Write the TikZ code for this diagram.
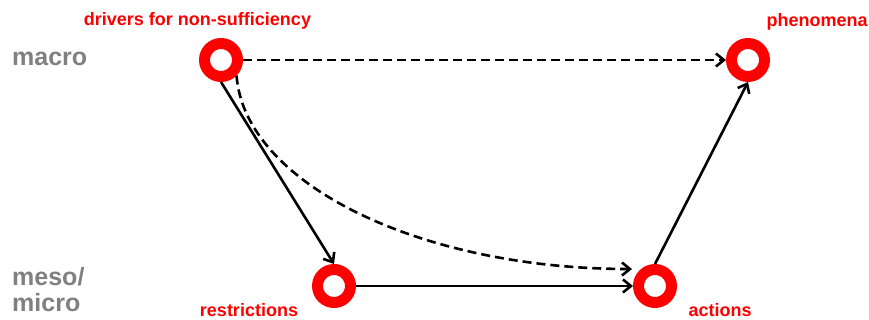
\documentclass[tikz,border=0pt]{standalone}
\usepackage{fontspec}
\setmainfont{Liberation Sans}
\usetikzlibrary{arrows.meta}
\definecolor{ringred}{RGB}{255,0,0}
\definecolor{levelgray}{RGB}{128,128,128}
\tikzset{
  ring/.style={circle, draw=ringred, line width=11pt, minimum size=33pt, inner sep=0pt, fill=white},
  lbl/.style={text=ringred, font=\bfseries\fontsize{18}{21}\selectfont, anchor=base, inner sep=0pt},
  lvl/.style={text=levelgray, font=\bfseries\fontsize{25}{26}\selectfont, anchor=base west, inner sep=0pt},
  conn/.style={line width=2.6pt, -{Straight Barb[length=8pt,width=13pt]}},
  dconn/.style={conn, dash pattern=on 9pt off 5pt},
}
\begin{document}
\begin{tikzpicture}[x=1pt, y=-1pt]
\useasboundingbox (0,0) rectangle (869,320);
% rings
\node[ring] (tl) at (221,60) {};
\node[ring] (tr) at (748,60) {};
\node[ring] (bl) at (334,286) {};
\node[ring] (br) at (655,286) {};
% labels
\node[lbl] (ltl) at (197.5,26) {drivers for non-sufficiency};
\node[lbl] (ltr) at (817,27) {phenomena};
\node[lbl] (lbl) at (249,316) {restrictions};
\node[lbl] (lbr) at (720,316) {actions};
\node[lvl] (macro) at (12,65.5) {macro};
\node[lvl] (meso) at (12,285) {meso/};
\node[lvl] (micro) at (12,311) {micro};
% connectors
\coordinate (brin) at ([shift={(-23,-17)}]br.center);
\draw[dconn] (tl) -- (tr);
\draw[conn] (tl.south) -- (bl.north);
\draw[dconn] (tl.-45) .. controls +(8,108) and +(-212,0) .. (brin);
\draw[conn] (bl) -- (br);
\draw[conn] (br.north) -- (tr.south);
\end{tikzpicture}
\end{document}
